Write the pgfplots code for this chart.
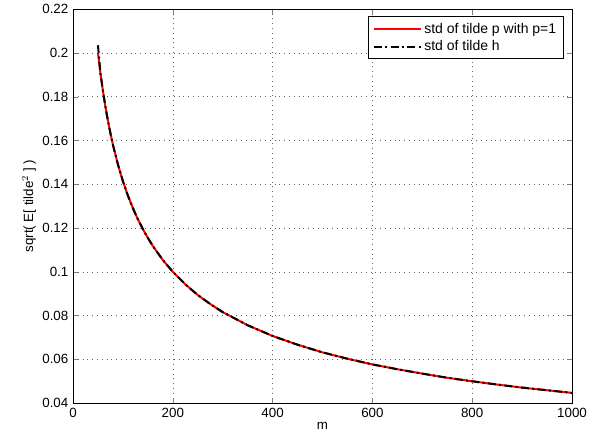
\documentclass[border=0pt]{standalone}
\usepackage{pgfplots}
\pgfplotsset{compat=1.18}
\usepackage{fontspec}
\setmainfont{Liberation Sans}
\begin{document}
\begin{tikzpicture}
\begin{axis}[
  scale only axis,
  width=374.25pt, height=295.5pt,
  xmin=0, xmax=1000, ymin=0.04, ymax=0.22,
  xtick={0,200,400,600,800,1000},
  xticklabels={0,200,400,600,800,1000},
  ytick={0.04,0.06,0.08,0.1,0.12,0.14,0.16,0.18,0.2,0.22},
  yticklabels={0.04,0.06,0.08,0.1,0.12,0.14,0.16,0.18,0.2,0.22},
  /pgf/number format/assume math mode=true,
  tick label style={font=\fontsize{10}{11}\selectfont},
  label style={font=\fontsize{10}{11}\selectfont},
  xlabel={m},
  ylabel={sqrt( E[ tilde$^2$ ] )},
  xlabel style={yshift=3pt},
  ylabel style={yshift=-2pt},
  tick align=inside,
  major tick length=3.75pt,
  xtick pos=both, ytick pos=both,
  grid=major,
  major grid style={black!60, dash pattern=on 0.6pt off 3pt, line width=0.4pt},
  axis line style={black, line width=0.6pt},
  legend style={at={(1,1)}, anchor=north east, xshift=-6pt, yshift=-5.5pt,
    font=\fontsize{10.5}{11}\selectfont, draw=black, line width=0.7pt,
    inner xsep=3.5pt, inner ysep=2.5pt, row sep=0pt, legend cell align=left},
  legend image code/.code={\draw[#1, line width=1.5pt] (0pt,0pt) -- (35pt,0pt);},
]
\addplot[red, line width=1.5pt] coordinates {
(50,0.2) (55,0.1907) (60,0.1826) (65,0.1754) (70,0.1690) (75,0.1633) (80,0.1581) (90,0.1491) (100,0.1414) (110,0.1348) (120,0.1291) (130,0.1240) (140,0.1195) (150,0.1155) (160,0.1118) (180,0.1054) (200,0.1) (225,0.0943) (250,0.0894) (275,0.0853) (300,0.0816) (350,0.0756) (400,0.0707) (450,0.0667) (500,0.0632) (550,0.0603) (600,0.0577) (650,0.0555) (700,0.0535) (750,0.0516) (800,0.05) (850,0.0485) (900,0.0471) (950,0.0459) (1000,0.0447)
};
\addlegendentry{std of tilde p with p=1}
\addplot[black, line width=1.5pt, dash pattern=on 6pt off 2.5pt on 1.5pt off 2.5pt] coordinates {
(50,0.2035) (55,0.1907) (60,0.1826) (65,0.1754) (70,0.1690) (75,0.1633) (80,0.1581) (90,0.1491) (100,0.1414) (110,0.1348) (120,0.1291) (130,0.1240) (140,0.1195) (150,0.1155) (160,0.1118) (180,0.1054) (200,0.1) (225,0.0943) (250,0.0894) (275,0.0853) (300,0.0816) (350,0.0756) (400,0.0707) (450,0.0667) (500,0.0632) (550,0.0603) (600,0.0577) (650,0.0555) (700,0.0535) (750,0.0516) (800,0.05) (850,0.0485) (900,0.0471) (950,0.0459) (1000,0.0447)
};
\addlegendentry{std of tilde h}
\end{axis}
\path (current axis.south west) ++(-54.75pt,-32.25pt) rectangle ([shift={(20.25pt,5.25pt)}]current axis.north east);
\end{tikzpicture}
\end{document}
